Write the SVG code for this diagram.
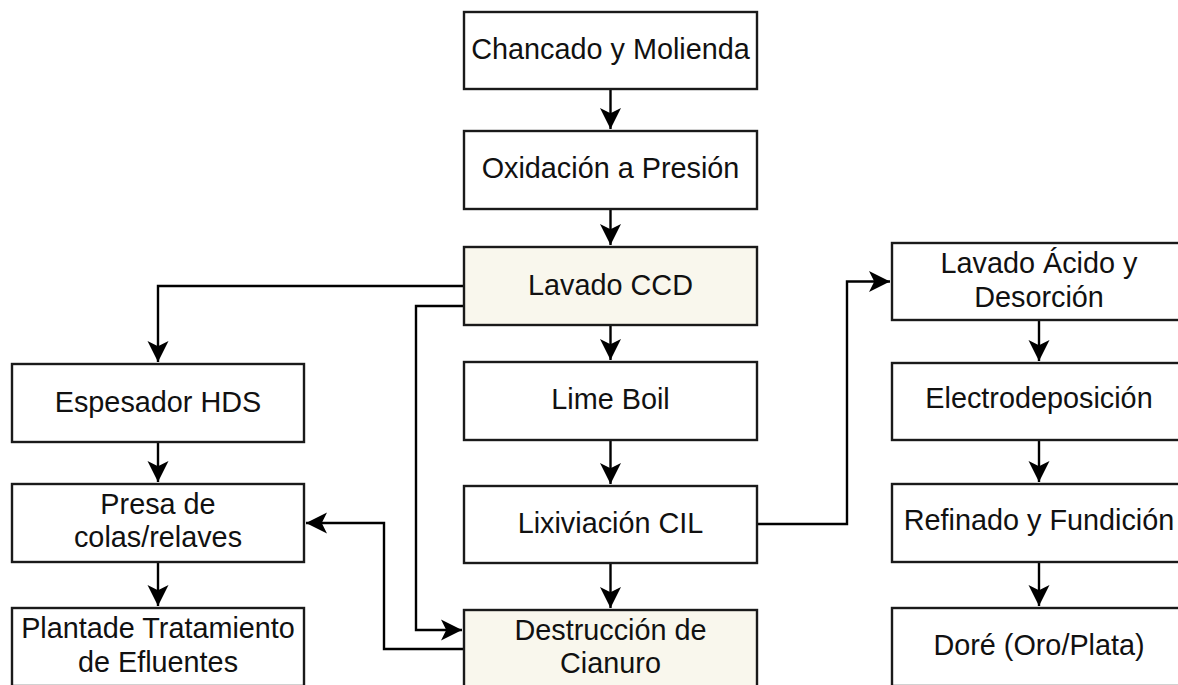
<svg xmlns="http://www.w3.org/2000/svg" width="1178" height="685" viewBox="0 0 1178 685">
  <style>
    .box { fill: #ffffff; stroke: #1a1a1a; stroke-width: 2.4; }
    .hl { fill: #f9f7ed; }
    .lbl { font-family: "Liberation Sans", Arial, sans-serif; font-size: 28.8px; fill: #111111; text-anchor: middle; }
    .edge { fill: none; stroke: #000000; stroke-width: 2.4; marker-end: url(#arrow); }
  </style>
  <defs>
    <marker id="arrow" markerUnits="userSpaceOnUse" viewBox="-22 -11 23 22" refX="0" refY="0" markerWidth="23" markerHeight="22" orient="auto">
      <path d="M0,0 L-21,-10.5 L-15.75,0 L-21,10.5 Z" fill="#000000"/>
    </marker>
  </defs>
  <rect width="1178" height="685" fill="#ffffff"/>

  <!-- connectors -->
  <g id="connectors">
    <path class="edge" d="M610.5,89 V129"/>
    <path class="edge" d="M610.5,209 V245"/>
    <path class="edge" d="M610.5,325 V360"/>
    <path class="edge" d="M610.5,440 V484"/>
    <path class="edge" d="M610.5,563 V608"/>
    <path class="edge" d="M464,286 H158 V362"/>
    <path class="edge" d="M464,306 H416 V630 H462"/>
    <path class="edge" d="M464,649 H384 V523 H306"/>
    <path class="edge" d="M757,524 H847 V281.5 H890"/>
    <path class="edge" d="M158,442 V482"/>
    <path class="edge" d="M158,562 V606"/>
    <path class="edge" d="M1039,320 V361"/>
    <path class="edge" d="M1039,440 V482"/>
    <path class="edge" d="M1039,562 V606"/>
  </g>

  <!-- central column -->
  <g id="chancado">
    <rect class="box" x="464" y="12" width="293" height="77"/>
    <text class="lbl" x="610.5" y="58.5">Chancado y Molienda</text>
  </g>
  <g id="oxidacion">
    <rect class="box" x="464" y="131" width="293" height="78"/>
    <text class="lbl" x="610.5" y="178">Oxidación a Presión</text>
  </g>
  <g id="lavado-ccd">
    <rect class="box hl" x="464" y="247" width="293" height="78"/>
    <text class="lbl" x="610.5" y="295">Lavado CCD</text>
  </g>
  <g id="lime-boil">
    <rect class="box" x="464" y="362" width="293" height="78"/>
    <text class="lbl" x="610.5" y="409">Lime Boil</text>
  </g>
  <g id="lixiviacion">
    <rect class="box" x="464" y="486" width="293" height="77"/>
    <text class="lbl" x="610.5" y="533">Lixiviación CIL</text>
  </g>
  <g id="destruccion">
    <rect class="box hl" x="464" y="610" width="293" height="78"/>
    <text class="lbl" x="610.5" y="640">Destrucción de</text>
    <text class="lbl" x="610.5" y="673">Cianuro</text>
  </g>

  <!-- left column -->
  <g id="espesador">
    <rect class="box" x="12" y="364" width="292" height="78"/>
    <text class="lbl" x="158" y="412">Espesador HDS</text>
  </g>
  <g id="presa">
    <rect class="box" x="12" y="484" width="292" height="78"/>
    <text class="lbl" x="158" y="514">Presa de</text>
    <text class="lbl" x="158" y="547">colas/relaves</text>
  </g>
  <g id="planta">
    <rect class="box" x="12" y="608" width="292" height="78"/>
    <text class="lbl" x="158" y="638">Plantade Tratamiento</text>
    <text class="lbl" x="158" y="672">de Efluentes</text>
  </g>

  <!-- right column -->
  <g id="lavado-acido">
    <rect class="box" x="892" y="243" width="294" height="77"/>
    <text class="lbl" x="1039" y="273">Lavado Ácido y</text>
    <text class="lbl" x="1039" y="307">Desorción</text>
  </g>
  <g id="electrodeposicion">
    <rect class="box" x="892" y="363" width="294" height="77"/>
    <text class="lbl" x="1039" y="408">Electrodeposición</text>
  </g>
  <g id="refinado">
    <rect class="box" x="892" y="484" width="294" height="78"/>
    <text class="lbl" x="1039" y="530">Refinado y Fundición</text>
  </g>
  <g id="dore">
    <rect class="box" x="892" y="608" width="294" height="78"/>
    <text class="lbl" x="1039" y="655">Doré (Oro/Plata)</text>
  </g>
</svg>
